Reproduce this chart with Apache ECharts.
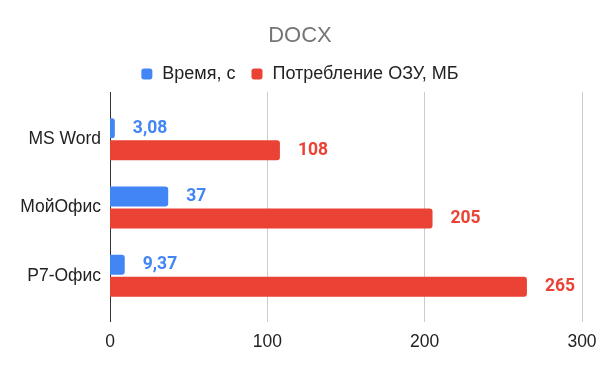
<!DOCTYPE html>
<html><head><meta charset="utf-8">
<script src="https://cdn.jsdelivr.net/npm/echarts@6/dist/echarts.min.js"></script>
<style>html,body{margin:0;padding:0;background:#fff}#c{width:600px;height:371px}</style>
</head><body><div id="c"></div>
<script>
const categories = ['MS Word', 'МойОфис', 'Р7-Офис'];
const timeValues = [3.08, 37, 9.37];
const ramValues = [108, 205, 265];
const seriesNames = ['Время, с', 'Потребление ОЗУ, МБ'];
const xTicks = [0, 100, 200, 300];

const chart = echarts.init(document.getElementById('c'));
const arial = 'Arial, "Liberation Sans", sans-serif';
const roboto = 'Roboto, Arial, sans-serif';
const fmt = p => String(p.value).replace('.', ',');
chart.setOption({
  animation: false,
  title: { text: 'DOCX', left: 'center', top: 20, textStyle: { fontFamily: arial, fontSize: 22, fontWeight: 'normal', color: '#757575' } },
  legend: { top: 60, left: 'center', itemWidth: 11, itemHeight: 11, itemGap: 16, icon: 'roundRect',
    textStyle: { fontFamily: arial, fontSize: 18, color: '#222', padding: [0, 0, 0, 5] }, data: seriesNames },
  grid: [
    { left: 110, right: 18, top: 92, bottom: 49 },
    { left: 110, right: 18, top: 105, bottom: 61 }
  ],
  xAxis: [
    { gridIndex: 0, type: 'value', min: xTicks[0], max: xTicks[xTicks.length - 1], interval: 100,
      axisLine: { show: false }, axisTick: { show: false },
      axisLabel: { fontFamily: arial, fontSize: 17.5, color: '#222', margin: 11 },
      splitLine: { lineStyle: { color: ['#333', '#ccc', '#ccc', '#ccc'], width: 1 } } },
    { gridIndex: 1, type: 'value', min: xTicks[0], max: xTicks[xTicks.length - 1], show: false, splitLine: { show: false } }
  ],
  yAxis: [
    { gridIndex: 0, type: 'category', data: [''], show: false },
    { gridIndex: 1, type: 'category', data: categories, inverse: true,
      axisLine: { show: false }, axisTick: { show: false },
      axisLabel: { fontFamily: arial, fontSize: 17.5, color: '#222', margin: 9 } }
  ],
  series: [
    { name: seriesNames[0], type: 'bar', xAxisIndex: 1, yAxisIndex: 1, data: timeValues, barWidth: 20, barGap: '10%',
      itemStyle: { color: '#4285F4', borderRadius: [0, 3, 3, 0] },
      label: { show: true, position: 'right', distance: 18, formatter: fmt, fontFamily: roboto, fontSize: 17.5, fontWeight: 'bold', color: '#4285F4' } },
    { name: seriesNames[1], type: 'bar', xAxisIndex: 1, yAxisIndex: 1, data: ramValues, barWidth: 20,
      itemStyle: { color: '#EA4335', borderRadius: [0, 3, 3, 0] },
      label: { show: true, position: 'right', distance: 18, formatter: fmt, fontFamily: roboto, fontSize: 17.5, fontWeight: 'bold', color: '#EA4335' } }
  ]
});
</script></body></html>
